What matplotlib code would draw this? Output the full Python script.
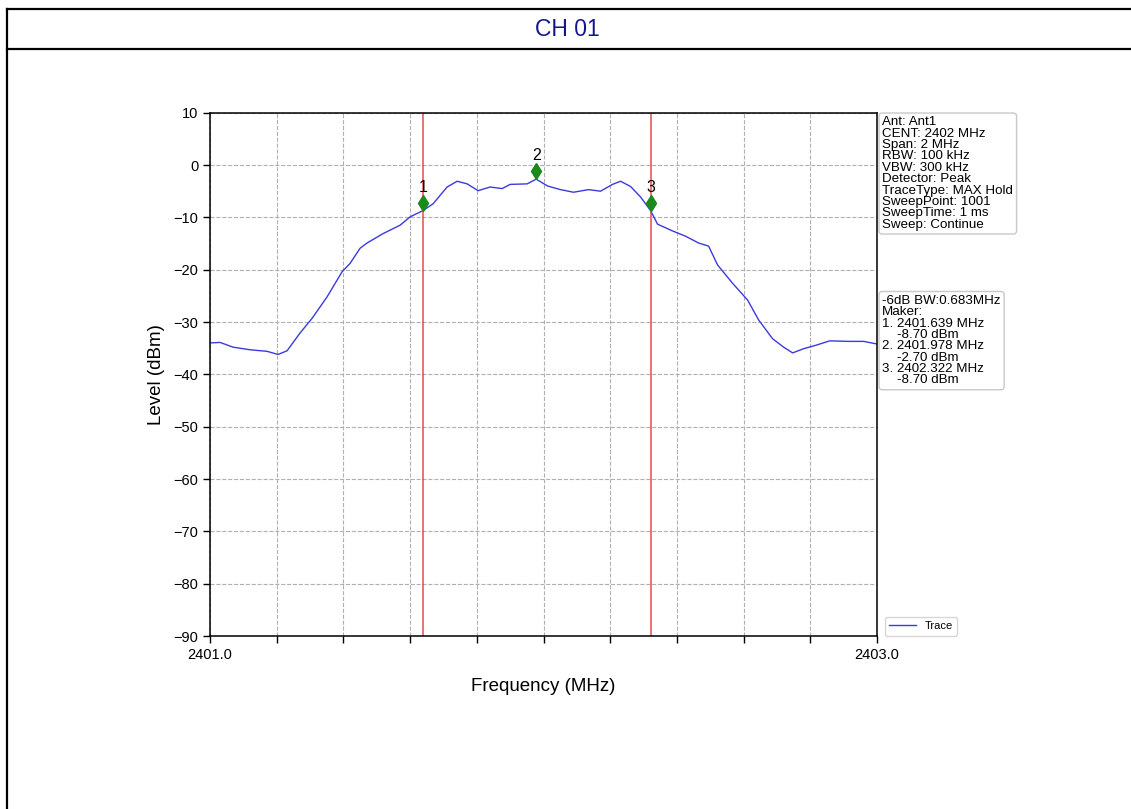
import matplotlib
matplotlib.use("Agg")
import matplotlib.pyplot as plt
from matplotlib.lines import Line2D

plt.rcParams['font.family'] = ['Liberation Sans', 'DejaVu Sans']

# ---- data ----
freq_mhz = [2401.000, 2401.030, 2401.069, 2401.120, 2401.171, 2401.204, 2401.231,
            2401.270, 2401.306, 2401.351, 2401.396, 2401.420, 2401.450, 2401.471,
            2401.519, 2401.570, 2401.600, 2401.639, 2401.669, 2401.711, 2401.741,
            2401.771, 2401.804, 2401.840, 2401.876, 2401.900, 2401.951, 2401.978,
            2402.012, 2402.051, 2402.090, 2402.135, 2402.171, 2402.207, 2402.231,
            2402.261, 2402.291, 2402.321, 2402.342, 2402.387, 2402.426, 2402.465,
            2402.495, 2402.522, 2402.567, 2402.612, 2402.645, 2402.687, 2402.720,
            2402.747, 2402.780, 2402.819, 2402.858, 2402.915, 2402.960, 2403.000]
level_dbm = [-34.0, -33.9, -34.8, -35.3, -35.6, -36.2, -35.5,
             -32.1, -29.3, -25.2, -20.4, -18.8, -15.9, -14.9,
             -13.1, -11.5, -9.9, -8.7, -7.4, -4.2, -3.1,
             -3.6, -4.9, -4.2, -4.5, -3.7, -3.6, -2.7,
             -4.0, -4.7, -5.2, -4.7, -5.0, -3.7, -3.1,
             -4.1, -6.1, -8.7, -11.3, -12.6, -13.6, -14.9,
             -15.5, -19.1, -22.6, -25.8, -29.6, -33.2, -34.8,
             -35.9, -35.1, -34.4, -33.6, -33.7, -33.7, -34.2]

marker_ids = ["1", "2", "3"]
marker_freq = [2401.639, 2401.978, 2402.322]
marker_level = [-8.70, -2.70, -8.70]
line_markers = [2401.639, 2402.322]

x_ticks = [2401.0, 2401.2, 2401.4, 2401.6, 2401.8, 2402.0, 2402.2, 2402.4, 2402.6, 2402.8, 2403.0]
x_tick_labels = ["2401.0", "", "", "", "", "", "", "", "", "", "2403.0"]
y_ticks = [10, 0, -10, -20, -30, -40, -50, -60, -70, -80, -90]

info_lines = ["Ant: Ant1", "CENT: 2402 MHz", "Span: 2 MHz", "RBW: 100 kHz", "VBW: 300 kHz",
              "Detector: Peak", "TraceType: MAX Hold", "SweepPoint: 1001",
              "SweepTime: 1 ms", "Sweep: Continue"]
marker_lines = ["-6dB BW:0.683MHz", "Maker:", "1. 2401.639 MHz", "    -8.70 dBm",
                "2. 2401.978 MHz", "    -2.70 dBm", "3. 2402.322 MHz", "    -8.70 dBm"]
title = "CH 01"

# ---- figure ----
W, H = 1131, 809
fig = plt.figure(figsize=(W / 100, H / 100), dpi=100)

def fx(px):
    return px / W

def fy(py):
    return 1 - py / H

# page frame
fig.add_artist(Line2D([fx(7), fx(7)], [fy(9), 0], color='black', lw=1.6, transform=fig.transFigure))
fig.add_artist(Line2D([fx(7), 1], [fy(9), fy(9)], color='black', lw=1.6, transform=fig.transFigure))
fig.add_artist(Line2D([fx(7), 1], [fy(49), fy(49)], color='black', lw=1.6, transform=fig.transFigure))
fig.text(fx(567), fy(29), title, ha='center', va='center', fontsize=16.5, color='#151590')

ax = fig.add_axes([fx(210), fy(636), fx(877) - fx(210), fy(112.7) - fy(636)])
ax.plot(freq_mhz, level_dbm, color='#3a3ae0', lw=1.0, label='Trace')
for f in line_markers:
    ax.axvline(f, color='#e03030', lw=1.1, alpha=0.85)
for mid, f, l in zip(marker_ids, marker_freq, marker_level):
    ax.plot([f], [l + 1.5], marker='d', color='#1a8a1a', markersize=8, linestyle='none')
    ax.text(f, l + 3.0, mid, ha='center', va='bottom', fontsize=11.5, color='black')

ax.set_xlim(2401.0, 2403.0)
ax.set_ylim(-90, 10)
ax.set_xticks(x_ticks)
ax.set_xticklabels(x_tick_labels)
ax.set_yticks(y_ticks)
ax.tick_params(labelsize=10.5, length=5, width=1)
ax.grid(True, linestyle='--', color='#b0b0b0', lw=0.8)
ax.set_xlabel('Frequency (MHz)', fontsize=13.5, labelpad=12)
ax.set_ylabel('Level (dBm)', fontsize=13.5, labelpad=6)
for s in ax.spines.values():
    s.set_linewidth(1.1)

ax.text(1.008, 0.993, "\n".join(info_lines), transform=ax.transAxes, ha='left', va='top',
        fontsize=9.6, linespacing=0.93,
        bbox=dict(boxstyle='round,pad=0.25', fc='white', ec='#c8c8c8', lw=1))
ax.text(1.008, 0.652, "\n".join(marker_lines), transform=ax.transAxes, ha='left', va='top',
        fontsize=9.6, linespacing=0.93,
        bbox=dict(boxstyle='round,pad=0.25', fc='white', ec='#c8c8c8', lw=1))
ax.legend(loc='lower left', bbox_to_anchor=(1.003, -0.01), fontsize=8, frameon=True,
          handlelength=2.4, edgecolor='#cccccc', fancybox=True)

fig.savefig('out.png', dpi=100)
